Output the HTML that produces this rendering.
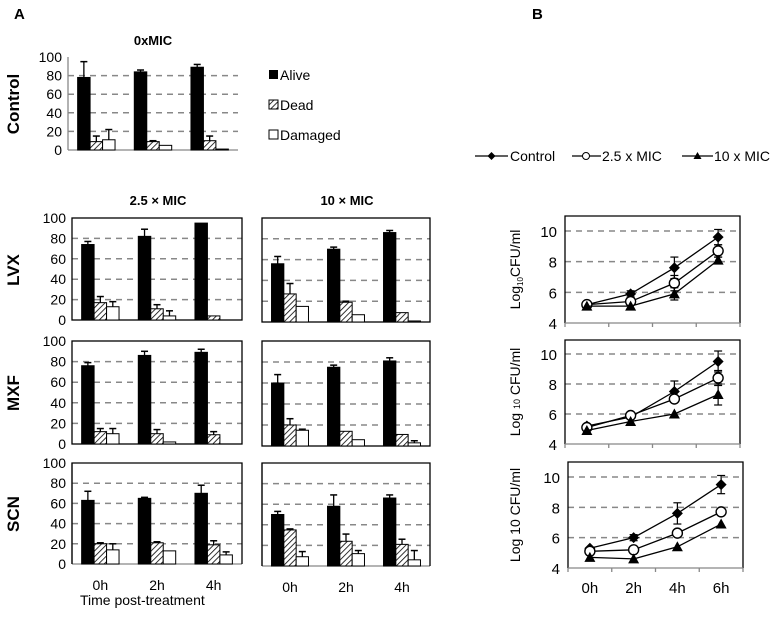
<!DOCTYPE html>
<html><head><meta charset="utf-8"><style>
body{margin:0;background:#fff;width:782px;height:632px;overflow:hidden}
svg{display:block;font-family:"Liberation Sans",Arial,sans-serif}
</style></head><body>
<svg id="fig" width="782" height="632" viewBox="0 0 782 632">
<defs><pattern id="hatch" width="4" height="4" patternUnits="userSpaceOnUse" patternTransform="rotate(45)"><rect width="4" height="4" fill="#fff"/><line x1="0" y1="0" x2="0" y2="4" stroke="#000" stroke-width="1.6"/></pattern></defs>
<text x="14" y="19" font-size="15" font-weight="bold">A</text>
<text x="532" y="19" font-size="15" font-weight="bold">B</text>
<text x="153" y="45" font-size="13" font-weight="bold" text-anchor="middle">0xMIC</text>
<text x="158" y="205" font-size="13" font-weight="bold" text-anchor="middle">2.5 × MIC</text>
<text x="347" y="205" font-size="13" font-weight="bold" text-anchor="middle">10 × MIC</text>
<text transform="translate(19,104) rotate(-90)" font-size="17" font-weight="bold" text-anchor="middle">Control</text>
<text transform="translate(19,270) rotate(-90)" font-size="17" font-weight="bold" text-anchor="middle">LVX</text>
<text transform="translate(19,393) rotate(-90)" font-size="17" font-weight="bold" text-anchor="middle">MXF</text>
<text transform="translate(19,514) rotate(-90)" font-size="17" font-weight="bold" text-anchor="middle">SCN</text>
<g>
<rect x="269" y="70" width="9" height="9" fill="#000"/><text x="280" y="80" font-size="14">Alive</text>
<rect x="269" y="100" width="9" height="9" fill="url(#hatch)" stroke="#000"/><text x="280" y="110" font-size="14">Dead</text>
<rect x="269" y="130" width="9" height="9" fill="#fff" stroke="#000"/><text x="280" y="140" font-size="14">Damaged</text>
</g>
<text x="80" y="605" font-size="14">Time  post-treatment</text>
<g font-size="14">
<line x1="475" y1="156" x2="508" y2="156" stroke="#000" stroke-width="1.3"/><path d="M491.5 152 L495.5 156 L491.5 160 L487.5 156Z"/><text x="510" y="161">Control</text>
<line x1="572" y1="156" x2="601" y2="156" stroke="#000" stroke-width="1.3"/><circle cx="586" cy="156" r="3.5" fill="#fff" stroke="#000"/><text x="602" y="161">2.5 x MIC</text>
<line x1="682" y1="156" x2="713" y2="156" stroke="#000" stroke-width="1.3"/><path d="M697.5 152 L701.5 159 L693.5 159Z"/><text x="714" y="161">10 x MIC</text>
</g>
<g id="plots"></g>
</svg>
<script>
// Bar data: [alive, dead, damaged] per time 0h,2h,4h
const times=['0h','2h','4h'];
const ctrlVals=[[78,9,11],[84,9,5],[89,10,1]];
const ctrlErr=[[17,6,11],[2,1,0],[3,5,0]];
const lvx25=[[74,17,13],[82,11,4],[95,4,0]];
const lvx25Err=[[3,6,5],[7,4,5],[0,0,0]];
const lvx10=[[56,27,15],[70,19,7],[86,9,1]];
const lvx10Err=[[7,10,0],[2,1,0],[2,0,0]];
const mxf25=[[76,12,10],[86,10,2],[89,9,0]];
const mxf25Err=[[3,3,5],[4,4,0],[3,3,0]];
const mxf10=[[60,20,15],[75,14,6],[81,11,3]];
const mxf10Err=[[8,6,1],[2,0,0],[3,0,2]];
const scn25=[[63,20,14],[65,21,13],[70,19,9]];
const scn25Err=[[9,1,6],[1,1,0],[8,4,3]];
const scn10=[[50,35,9],[58,24,12],[66,21,6]];
const scn10Err=[[3,1,5],[11,7,3],[3,5,9]];
const yTicks=[0,20,40,60,80,100];
// Line data (log10 CFU/ml) at 0h,2h,4h,6h
const hours=['0h','2h','4h','6h'];
const p1Control=[5.2,5.9,7.6,9.6], p1Mic25=[5.2,5.4,6.6,8.7], p1Mic10=[5.1,5.1,5.9,8.1];
const p1ControlErr=[0.1,0.2,0.7,0.5], p1Mic25Err=[0.1,0.2,0.5,0.4], p1Mic10Err=[0.1,0.1,0.4,0.2];
const p2Control=[5.2,5.8,7.5,9.5], p2Mic25=[5.1,5.9,7.0,8.4], p2Mic10=[4.9,5.5,6.0,7.3];
const p2ControlErr=[0.1,0.1,0.7,0.7], p2Mic25Err=[0.1,0.1,0.2,0.5], p2Mic10Err=[0.1,0.1,0.1,0.7];
const p3Control=[5.3,6.0,7.6,9.5], p3Mic25=[5.1,5.2,6.3,7.7], p3Mic10=[4.7,4.6,5.4,6.9];
const p3ControlErr=[0.1,0.2,0.7,0.6], p3Mic25Err=[0.1,0.1,0.1,0.1], p3Mic10Err=[0.1,0.1,0.1,0.1];
const logTicks=[4,6,8,10];

const NS='http://www.w3.org/2000/svg';
const root=document.getElementById('plots');
function mk(tag,attrs,parent){const e=document.createElementNS(NS,tag);for(const k in attrs)e.setAttribute(k,attrs[k]);(parent||root).appendChild(e);return e;}

function barPanel(name,x0,x1,yTop,yBot,vals,errs,showYLabels,frame,xlabels){
  const g=mk('g',{});
  
  
  const ys=v=>yBot-(v/100)*(yBot-yTop);
  yTicks.forEach(t=>{
    if(t>0&&t<100) mk('line',{x1:x0,x2:x1,y1:ys(t),y2:ys(t),stroke:'#888','stroke-width':1.5,'stroke-dasharray':'6,5'},g);
    if(showYLabels){const tx=mk('text',{x:x0-6,y:ys(t)+5,'font-size':14,'text-anchor':'end'},g);tx.textContent=t;
      
      }
  });
  if(frame) mk('rect',{x:x0,y:yTop,width:x1-x0,height:yBot-yTop,fill:'none',stroke:'#000','stroke-width':1.3},g);
  else {mk('line',{x1:x0,x2:x0,y1:yTop,y2:yBot,stroke:'#888','stroke-width':1.3},g);mk('line',{x1:x0,x2:x1,y1:yBot,y2:yBot,stroke:'#888','stroke-width':1.3},g);}
  const gw=(x1-x0)/3,bw=gw*0.22;
  const fills=['#000','url(#hatch)','#fff'];
  const names=['bar-alive','bar-dead','bar-damaged'];
  vals.forEach((grp,i)=>{
    grp.forEach((v,j)=>{
      const bx=x0+gw*i+gw*0.17+j*bw;
      const r=mk('rect',{x:bx,y:ys(v),width:bw,height:Math.max(0,yBot-ys(v)),fill:fills[j],stroke:'#000','stroke-width':1},g);
      
      
      const e=errs[i][j];
      if(e>0){const cx=bx+bw/2;mk('line',{x1:cx,x2:cx,y1:ys(v),y2:ys(v+e),stroke:'#000','stroke-width':1.3},g);mk('line',{x1:cx-3.5,x2:cx+3.5,y1:ys(v+e),y2:ys(v+e),stroke:'#000','stroke-width':1.5},g);}
    });
    if(xlabels){const tx=mk('text',{x:x0+gw*i+gw/2,y:yBot+26,'font-size':14,'text-anchor':'middle'},g);tx.textContent=times[i];
      
      }
  });
}
barPanel('control-bar-chart',68,238,57,150,ctrlVals,ctrlErr,true,false,false);
barPanel('lvx-2-5mic-chart',72,242,218,320,lvx25,lvx25Err,true,true,false);
barPanel('lvx-10mic-chart',262,430,218,322,lvx10,lvx10Err,false,true,false);
barPanel('mxf-2-5mic-chart',72,242,341,444,mxf25,mxf25Err,true,true,false);
barPanel('mxf-10mic-chart',262,430,341,446,mxf10,mxf10Err,false,true,false);
barPanel('scn-2-5mic-chart',72,242,463,564,scn25,scn25Err,true,false,true);
barPanel('scn-10mic-chart',262,430,463,566,scn10,scn10Err,false,false,true);
[[72,242,463,564],[262,430,463,566]].forEach(b=>mk('path',{d:`M${b[0]} ${b[3]} V${b[2]} H${b[1]} V${b[3]}`,fill:'none',stroke:'#000','stroke-width':1.3}));

function linePanel(name,x0,x1,yTop,y10,y4,series,errs,ylabel,ylx,xlabels){
  const g=mk('g',{});
  
  
  const ys=v=>y4-(v-4)/6*(y4-y10);
  const cw=(x1-x0)/4, xs=i=>x0+cw*i+cw/2;
  logTicks.forEach(t=>{
    if(t>4) mk('line',{x1:x0,x2:x1,y1:ys(t),y2:ys(t),stroke:'#888','stroke-width':1.5,'stroke-dasharray':'6,5'},g);
    const tx=mk('text',{x:x0-8,y:ys(t)+6,'font-size':15,'text-anchor':'end'},g);tx.textContent=t;
    
    
  });
  mk('path',{d:`M${x0} ${y4} V${yTop} H${x1} V${y4}`,fill:'none',stroke:'#000','stroke-width':1.3},g);
  mk('line',{x1:x0,x2:x1,y1:y4,y2:y4,stroke:'#888','stroke-width':1.3},g);
  for(let i=0;i<=4;i++) mk('line',{x1:x0+cw*i,x2:x0+cw*i,y1:y4,y2:y4+4,stroke:'#888','stroke-width':1.3},g);
  const snames=['series-control','series-2-5mic','series-10mic'];
  series.forEach((s,k)=>{
    const pts=s.map((v,i)=>xs(i)+','+ys(v)).join(' ');
    const pl=mk('polyline',{points:pts,fill:'none',stroke:'#000','stroke-width':1.3},g);
    
    
    s.forEach((v,i)=>{
      const e=errs[k][i],cx=xs(i),cy=ys(v);
      if(e>0.15){mk('line',{x1:cx,x2:cx,y1:ys(v-e),y2:ys(v+e),stroke:'#000','stroke-width':1.2},g);
        [v-e,v+e].forEach(w=>mk('line',{x1:cx-4,x2:cx+4,y1:ys(w),y2:ys(w),stroke:'#000','stroke-width':1.2},g));}
      let m;
      if(k===0) m=mk('path',{d:`M${cx} ${cy-5.5} L${cx+5.5} ${cy} L${cx} ${cy+5.5} L${cx-5.5} ${cy}Z`},g);
      else if(k===1) m=mk('circle',{cx:cx,cy:cy,r:5,fill:'#fff',stroke:'#000','stroke-width':1.4},g);
      else m=mk('path',{d:`M${cx} ${cy-5.5} L${cx+5.5} ${cy+4.5} L${cx-5.5} ${cy+4.5}Z`},g);
      
      
    });
  });
  const yl=mk('text',{transform:`translate(${ylx},${(yTop+y4)/2}) rotate(-90)`,'font-size':14,'text-anchor':'middle'},g);
  yl.innerHTML=ylabel;
  
  
  if(xlabels) hours.forEach((h,i)=>{const tx=mk('text',{x:xs(i),y:y4+25,'font-size':15,'text-anchor':'middle'},g);tx.textContent=h;
    
    });
}
linePanel('cfu-chart-lvx',565,740,216,231,323,[p1Control,p1Mic25,p1Mic10],[p1ControlErr,p1Mic25Err,p1Mic10Err],'Log<tspan font-size="8" dy="3">10</tspan><tspan dy="-3">CFU/ml</tspan>',520,false);
linePanel('cfu-chart-mxf',565,740,340,354,444,[p2Control,p2Mic25,p2Mic10],[p2ControlErr,p2Mic25Err,p2Mic10Err],'Log <tspan font-size="9">10</tspan> CFU/ml',520,false);
linePanel('cfu-chart-scn',568,743,462,477,568,[p3Control,p3Mic25,p3Mic10],[p3ControlErr,p3Mic25Err,p3Mic10Err],'Log 10 CFU/ml',520,true);
</script>
</body></html>
